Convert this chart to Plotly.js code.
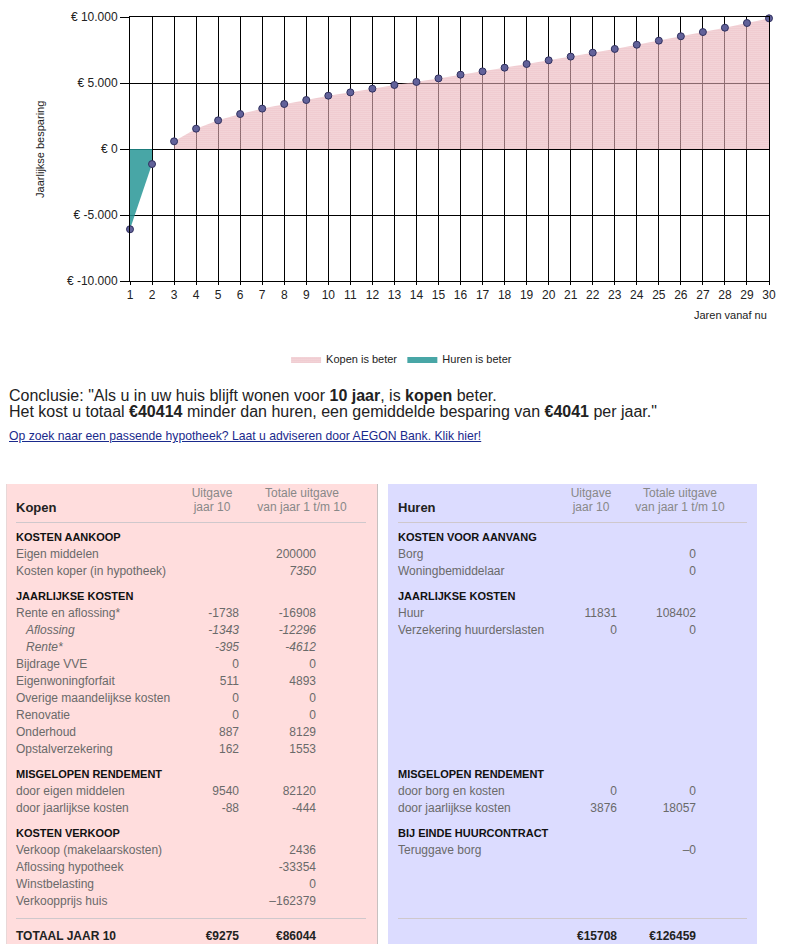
<!DOCTYPE html>
<html>
<head>
<meta charset="utf-8">
<script src="https://cdn.plot.ly/plotly-3.0.1.min.js"></script>
<style>
  html, body { margin:0; padding:0; background:#fff; }
  body { width:786px; height:951px; position:relative; overflow:hidden; font-family:"Liberation Sans", Arial, sans-serif; }
  #chart { position:absolute; left:0; top:0; width:786px; height:375px; }
  .abs { position:absolute; white-space:nowrap; }
  .concl { font-size:16px; color:#222; line-height:16px; }
  .link { font-size:12.2px; color:#1a2a8c; text-decoration:underline; }
  .box { position:absolute; top:484px; height:460px; }
  .cell { position:absolute; white-space:nowrap; font-size:12px; line-height:16px; color:#6a6a6a; }
  .sec { font-size:11px; font-weight:bold; color:#111; }
  .hdr { color:#888; text-align:center; }
  .tot { font-weight:bold; color:#222; }
</style>
</head>
<body>
<div id="chart"></div>
<div id="content"></div>
<script>
// ---------- chart data ----------
const years = [1,2,3,4,5,6,7,8,9,10,11,12,13,14,15,16,17,18,19,20,21,22,23,24,25,26,27,28,29,30];
const savings = [-6080,-1140,580,1540,2170,2650,3060,3410,3710,4041,4290,4570,4850,5080,5350,5630,5880,6160,6440,6720,7000,7300,7580,7900,8210,8540,8860,9190,9545,9900];
const yTickVals = [10000,5000,0,-5000,-10000];
const yTickText = ["€ 10.000","€ 5.000","€ 0","€ -5.000","€ -10.000"];
const seriesNames = ["Kopen is beter","Huren is beter"];

const buyX = years.filter((x,i)=>savings[i] > 0);
const buyY = savings.filter(v=>v > 0);
const rentX = years.filter((x,i)=>savings[i] < 0);
const rentY = savings.filter(v=>v < 0);

const traces = [
  { x:buyX, y:buyY, name:seriesNames[0], type:'scatter', mode:'lines', fill:'tozeroy',
    line:{width:0, color:'#e0a0aa'}, fillcolor:'rgba(255,255,255,0)',
    fillpattern:{shape:'.', fgcolor:'#e3a3ab', bgcolor:'rgba(255,240,242,0.25)', size:2, solidity:0.55},
    hoverinfo:'skip' },
  { x:rentX, y:rentY, name:seriesNames[1], type:'scatter', mode:'lines', fill:'tozeroy',
    line:{width:0, color:'#1a9a9a'}, fillcolor:'rgba(255,255,255,0)',
    fillpattern:{shape:'.', fgcolor:'#0b8787', bgcolor:'rgba(150,215,215,0.45)', size:2, solidity:0.7},
    hoverinfo:'skip' },
  { x:years, y:savings, type:'scatter', mode:'markers', showlegend:false, cliponaxis:false,
    marker:{size:7, color:'#62629a', line:{color:'#30305e', width:1}} }
];

const layout = {
  width:786, height:375,
  margin:{l:130, r:17, t:17, b:94, autoexpand:false},
  paper_bgcolor:'#fff', plot_bgcolor:'#fff',
  font:{family:'"Liberation Sans", Arial, sans-serif', size:12, color:'#222'},
  showlegend:true,
  legend:{orientation:'h', x:0.425, xanchor:'center', y:-0.295, yanchor:'middle',
          font:{size:11, color:'#222'}, itemwidth:30, traceorder:'normal'},
  xaxis:{range:[1,30], tickvals:years, showgrid:true, gridcolor:'#000', gridwidth:1,
         showline:true, linecolor:'#000', mirror:true, ticks:'outside', ticklen:3, tickcolor:'#000',
         zeroline:false, fixedrange:true, tickfont:{size:12, color:'#222'}},
  yaxis:{range:[-10000,10000], tickvals:yTickVals, ticktext:yTickText, showgrid:true, gridcolor:'#000',
         gridwidth:1, showline:true, linecolor:'#000', mirror:true, ticks:'outside', ticklen:9, tickcolor:'#000',
         zeroline:false, fixedrange:true, tickfont:{size:12, color:'#222'}},
  annotations:[
    {text:'Jaarlijkse besparing', xref:'paper', yref:'paper', x:-0.141, y:0.5, xanchor:'center', yanchor:'middle',
     textangle:-90, showarrow:false, font:{size:11, color:'#222'}},
    {text:'Jaren vanaf nu', xref:'paper', yref:'paper', x:1, y:-0.129, xanchor:'right', yanchor:'middle',
     showarrow:false, font:{size:11, color:'#222'}}
  ]
};
Plotly.newPlot('chart', traces, layout, {displayModeBar:false, staticPlot:true});

// ---------- text & table data ----------
const conclusion1 = 'Conclusie: "Als u in uw huis blijft wonen voor <b>10 jaar</b>, is <b>kopen</b> beter.';
const conclusion2 = 'Het kost u totaal <b>€40414</b> minder dan huren, een gemiddelde besparing van <b>€4041</b> per jaar."';
const linkText = 'Op zoek naar een passende hypotheek? Laat u adviseren door AEGON Bank. Klik hier!';

const headCol1 = ['Uitgave','jaar 10'];
const headCol2 = ['Totale uitgave','van jaar 1 t/m 10'];

// [slot, type, label, col1, col2]  type: s=section, r=row, i=italic indented
const buyRows = [
  [0,'s','KOSTEN AANKOOP','',''],
  [1,'r','Eigen middelen','','200000'],
  [2,'r','Kosten koper (in hypotheek)','','<i>7350</i>'],
  [3,'s','JAARLIJKSE KOSTEN','',''],
  [4,'r','Rente en aflossing*','-1738','-16908'],
  [5,'i','Aflossing','-1343','-12296'],
  [6,'i','Rente*','-395','-4612'],
  [7,'r','Bijdrage VVE','0','0'],
  [8,'r','Eigenwoningforfait','511','4893'],
  [9,'r','Overige maandelijkse kosten','0','0'],
  [10,'r','Renovatie','0','0'],
  [11,'r','Onderhoud','887','8129'],
  [12,'r','Opstalverzekering','162','1553'],
  [13,'s','MISGELOPEN RENDEMENT','',''],
  [14,'r','door eigen middelen','9540','82120'],
  [15,'r','door jaarlijkse kosten','-88','-444'],
  [16,'s','KOSTEN VERKOOP','',''],
  [17,'r','Verkoop (makelaarskosten)','','2436'],
  [18,'r','Aflossing hypotheek','','-33354'],
  [19,'r','Winstbelasting','','0'],
  [20,'r','Verkoopprijs huis','','–162379']
];
const rentRows = [
  [0,'s','KOSTEN VOOR AANVANG','',''],
  [1,'r','Borg','','0'],
  [2,'r','Woningbemiddelaar','','0'],
  [3,'s','JAARLIJKSE KOSTEN','',''],
  [4,'r','Huur','11831','108402'],
  [5,'r','Verzekering huurderslasten','0','0'],
  [13,'s','MISGELOPEN RENDEMENT','',''],
  [14,'r','door borg en kosten','0','0'],
  [15,'r','door jaarlijkse kosten','3876','18057'],
  [16,'s','BIJ EINDE HUURCONTRACT','',''],
  [17,'r','Teruggave borg','','–0']
];
const buyTotal = ['TOTAAL JAAR 10','€9275','€86044'];
const rentTotal = ['','€15708','€126459'];

// ---------- build page text ----------
const content = document.getElementById('content');
function add(html, cls, style){
  const d = document.createElement('div');
  d.className = cls; d.innerHTML = html; d.setAttribute('style', style);
  content.appendChild(d); return d;
}
add(conclusion1, 'abs concl', 'left:9px;top:388px;');
add(conclusion2, 'abs concl', 'left:9px;top:404px;');
add(linkText, 'abs link', 'left:9px;top:429px;');

// slot center y positions
const sectionSlots = [0,3,13,16];
const slotY = [];
let y = 537;
for (let s=0; s<=20; s++){
  if (s>0) y += sectionSlots.includes(s) ? 25 : 17;
  slotY.push(y);
}

function buildTable(cfg, title, rows, total){
  add('', 'box', `left:${cfg.left}px;width:${cfg.width}px;background:${cfg.bg};${cfg.border}`);
  add(`<b>${title}</b>`, 'cell', `left:${cfg.lx}px;top:${508-8}px;font-size:13px;color:#222;`);
  add(headCol1[0], 'cell hdr', `left:${cfg.h1-50}px;width:100px;top:${493-8}px;`);
  add(headCol1[1], 'cell hdr', `left:${cfg.h1-50}px;width:100px;top:${507-8}px;`);
  add(headCol2[0], 'cell hdr', `left:${cfg.h2-60}px;width:120px;top:${493-8}px;`);
  add(headCol2[1], 'cell hdr', `left:${cfg.h2-60}px;width:120px;top:${507-8}px;`);
  add('', 'abs', `left:${cfg.lx}px;width:${cfg.lineW}px;top:522px;height:1px;background:#cfc8cc;`);
  rows.forEach(r=>{
    const [slot,type,label,c1,c2] = r;
    const cy = slotY[slot] - 8;
    if (type==='s'){
      add(label, 'cell sec', `left:${cfg.lx}px;top:${cy}px;`);
    } else {
      const it = type==='i';
      add(it?`<i>${label}</i>`:label, 'cell', `left:${cfg.lx + (it?10:0)}px;top:${cy}px;`);
      if (c1!=='') add(it?`<i>${c1}</i>`:c1, 'cell', `right:${786-cfg.c1}px;top:${cy}px;`);
      if (c2!=='') add(it?`<i>${c2}</i>`:c2, 'cell', `right:${786-cfg.c2}px;top:${cy}px;`);
    }
  });
  add('', 'abs', `left:${cfg.lx}px;width:${cfg.lineW}px;top:918px;height:1px;background:#cfc8cc;`);
  if (total[0]) add(total[0], 'cell tot', `left:${cfg.lx}px;top:${936-8}px;`);
  add(total[1], 'cell tot', `right:${786-cfg.c1}px;top:${936-8}px;`);
  add(total[2], 'cell tot', `right:${786-cfg.c2}px;top:${936-8}px;`);
}

buildTable({left:6, width:370, bg:'#ffdddd', border:'border-right:1px solid #c8c0c0;border-left:1px solid #e8d8d8;',
            lx:16, c1:239, c2:316, h1:212, h2:302, lineW:350}, 'Kopen', buyRows, buyTotal);
buildTable({left:388, width:369, bg:'#dcdcff', border:'',
            lx:398, c1:617, c2:696, h1:591, h2:680, lineW:349}, 'Huren', rentRows, rentTotal);
</script>
</body>
</html>
